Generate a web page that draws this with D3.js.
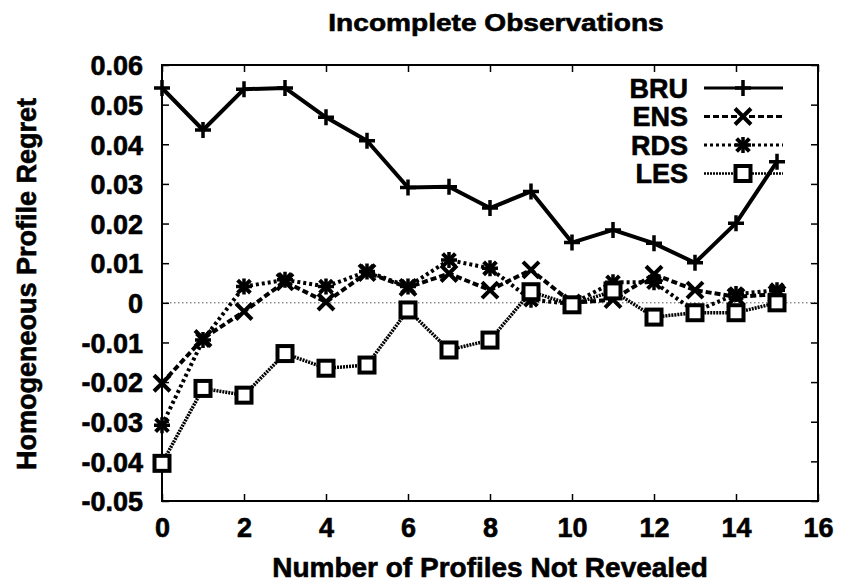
<html>
<head>
<script src="https://d3js.org/d3.v7.min.js"></script>
<style>
body { margin: 0; background: #fff; }
text { font-family: "Liberation Sans", Arial, sans-serif; font-weight: bold; fill: #000; stroke: #000; stroke-width: 0.6px; }
.tick line { stroke: #000; stroke-width: 1.5px; }
.domain { display: none; }
</style>
</head>
<body>
<svg id="chart" width="846" height="587"></svg>
<script>
var xValues = [0, 1, 2, 3, 4, 5, 6, 7, 8, 9, 10, 11, 12, 13, 14, 15];
var bru = [0.0542, 0.0436, 0.0539, 0.0542, 0.0468, 0.0409, 0.0291, 0.0293, 0.0239, 0.0281, 0.0152, 0.0184, 0.0150, 0.0101, 0.0201, 0.0356];
var ens = [-0.0203, -0.0090, -0.0022, 0.0053, 0.0002, 0.0076, 0.0039, 0.0074, 0.0032, 0.0083, 0.0000, 0.0008, 0.0072, 0.0032, 0.0015, 0.0022];
var rds = [-0.0309, -0.0094, 0.0041, 0.0058, 0.0041, 0.0079, 0.0041, 0.0108, 0.0087, 0.0008, -0.0003, 0.0052, 0.0052, -0.0022, 0.0022, 0.0032];
var les = [-0.0405, -0.0216, -0.0233, -0.0128, -0.0165, -0.0157, -0.0018, -0.0119, -0.0094, 0.0028, -0.0005, 0.0030, -0.0036, -0.0025, -0.0025, 0.0000];
var seriesNames = ["BRU", "ENS", "RDS", "LES"];
var xTicks = [0, 2, 4, 6, 8, 10, 12, 14, 16];
var yTicks = [-0.05, -0.04, -0.03, -0.02, -0.01, 0, 0.01, 0.02, 0.03, 0.04, 0.05, 0.06];
var yTickLabels = ["-0.05", "-0.04", "-0.03", "-0.02", "-0.01", "0", "0.01", "0.02", "0.03", "0.04", "0.05", "0.06"];

var plotLeft = 162, plotRight = 818, plotTop = 65, plotBottom = 501;
var svg = d3.select("#chart");
var x = d3.scaleLinear().domain([0, 16]).range([plotLeft, plotRight]);
var y = d3.scaleLinear().domain([-0.05, 0.06]).range([plotBottom, plotTop]);

// title and axis titles
svg.append("text").attr("transform", "translate(496,31) scale(1.17,1)").attr("text-anchor", "middle")
	.style("font-size", "24px").text("Incomplete Observations");
svg.append("text").attr("x", 490).attr("y", 577).attr("text-anchor", "middle")
	.style("font-size", "28px").text("Number of Profiles Not Revealed");
svg.append("text").attr("transform", "translate(36,284) rotate(-90)").attr("text-anchor", "middle")
	.style("font-size", "27px").text("Homogeneous Profile Regret");

// zero line
svg.append("line").attr("x1", plotLeft).attr("x2", plotRight).attr("y1", y(0)).attr("y2", y(0))
	.attr("stroke", "#555").attr("stroke-width", 1).attr("stroke-dasharray", "1.5,2.5");

// axes, ticks inward on all four sides
var gx = svg.append("g").attr("transform", "translate(0," + plotBottom + ")")
	.call(d3.axisBottom(x).tickValues(xTicks).tickSizeInner(-7).tickSizeOuter(0).tickPadding(17));
gx.selectAll("text").style("font-size", "27px");
svg.append("g").attr("transform", "translate(0," + plotTop + ")")
	.call(d3.axisTop(x).tickValues(xTicks).tickSizeInner(-7).tickSizeOuter(0).tickFormat(""));
var gy = svg.append("g").attr("transform", "translate(" + plotLeft + ",0)")
	.call(d3.axisLeft(y).tickValues(yTicks).tickSizeInner(-7).tickSizeOuter(0).tickPadding(19)
		.tickFormat(function(d, i){ return yTickLabels[i]; }));
gy.selectAll("text").style("font-size", "27px").attr("dy", "0.36em");
svg.append("g").attr("transform", "translate(" + plotRight + ",0)")
	.call(d3.axisRight(y).tickValues(yTicks).tickSizeInner(-7).tickSizeOuter(0).tickFormat(""));
svg.append("rect").attr("x", plotLeft).attr("y", plotTop)
	.attr("width", plotRight - plotLeft).attr("height", plotBottom - plotTop)
	.attr("fill", "none").attr("stroke", "#000").attr("stroke-width", 2);

// markers
function plus(g, s) {
	g.append("path").attr("d", "M" + (-s) + ",0H" + s + "M0," + (-s) + "V" + s)
		.attr("stroke", "#000").attr("stroke-width", 3.5).attr("fill", "none");
}
function cross(g, s) {
	g.append("path").attr("d", "M" + (-s) + "," + (-s) + "L" + s + "," + s + "M" + (-s) + "," + s + "L" + s + "," + (-s))
		.attr("stroke", "#000").attr("stroke-width", 4).attr("fill", "none");
}
function star(g, s) {
	plus(g, s);
	cross(g, s * 0.8);
	g.append("circle").attr("r", s * 0.5).attr("fill", "#000");
}
function square(g, s) {
	g.append("rect").attr("x", -s).attr("y", -s).attr("width", 2 * s).attr("height", 2 * s)
		.attr("fill", "#fff").attr("stroke", "#000").attr("stroke-width", 4);
}

var series = [
	{name: seriesNames[0], values: bru, dash: null, width: 4, marker: plus, size: 8},
	{name: seriesNames[1], values: ens, dash: "6,3", width: 4, marker: cross, size: 8},
	{name: seriesNames[2], values: rds, dash: "3,3", width: 4, marker: star, size: 8},
	{name: seriesNames[3], values: les, dash: "2,1", width: 3.5, marker: square, size: 7.5}
];

var line = d3.line()
	.x(function(d, i){ return x(xValues[i]); })
	.y(function(d){ return y(d); });

series.forEach(function(s) {
	svg.append("path").datum(s.values)
		.attr("fill", "none").attr("stroke", "#000")
		.attr("stroke-width", s.width).attr("stroke-dasharray", s.dash)
		.attr("stroke-linejoin", "round").attr("d", line);
	s.values.forEach(function(v, i) {
		var g = svg.append("g").attr("transform", "translate(" + x(xValues[i]) + "," + y(v) + ")");
		s.marker(g, s.size);
	});
});

// legend
series.forEach(function(s, i) {
	var ly = 88 + i * 28.5;
	svg.append("text").attr("x", 688).attr("y", ly).attr("dy", "0.36em").attr("text-anchor", "end")
		.style("font-size", "27px").text(s.name);
	svg.append("line").attr("x1", 704).attr("x2", 783).attr("y1", ly).attr("y2", ly)
		.attr("stroke", "#000").attr("stroke-width", s.width - 1).attr("stroke-dasharray", s.dash);
	var g = svg.append("g").attr("transform", "translate(743," + ly + ")");
	s.marker(g, s.size);
});
</script>
</body>
</html>
